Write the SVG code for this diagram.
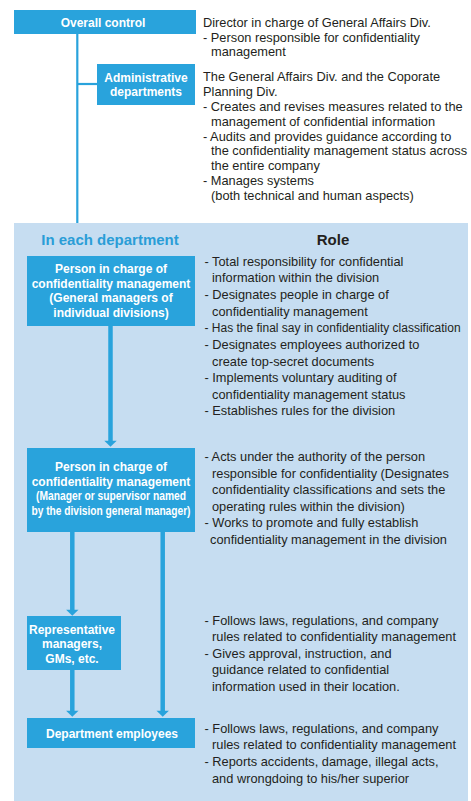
<svg xmlns="http://www.w3.org/2000/svg" width="471" height="801" viewBox="0 0 471 801">
  <style>
    .box { fill: #29a3dc; }
    .bt { font-family: "Liberation Sans", Arial, sans-serif; font-weight: bold; font-size: 12px; fill: #ffffff; text-anchor: middle; }
    .tx { font-family: "Liberation Sans", Arial, sans-serif; font-size: 12.8px; fill: #231f20; }
    .hd { font-family: "Liberation Sans", Arial, sans-serif; font-weight: bold; font-size: 15px; text-anchor: middle; }
    .ln { stroke: #29a3dc; fill: none; }
    .head { fill: #29a3dc; }
  </style>
  <defs>
    <polygon id="arrowhead" points="-6.2,0 6.2,0 0,6" class="head"/>
  </defs>

  <rect x="0" y="0" width="471" height="801" fill="#ffffff"/>

  <!-- department panel -->
  <rect id="panel" x="14" y="223" width="454" height="578" fill="#c6ddf1"/>
  <text class="hd" x="110" y="245" fill="#2a9dd7">In each department</text>
  <text class="hd" x="333" y="244.5" fill="#231f20">Role</text>

  <!-- connectors -->
  <g id="connectors">
    <line class="ln" x1="77.3" y1="34" x2="77.3" y2="223" stroke-width="2.2"/>
    <line class="ln" x1="77.3" y1="84" x2="97" y2="84" stroke-width="2.2"/>
    <line class="ln" x1="110.5" y1="326" x2="110.5" y2="441.5" stroke-width="4.5"/>
    <use href="#arrowhead" x="110.5" y="440.7"/>
    <line class="ln" x1="72.3" y1="532" x2="72.3" y2="610.5" stroke-width="4.5"/>
    <use href="#arrowhead" x="72.3" y="609.7"/>
    <line class="ln" x1="162.7" y1="532" x2="162.7" y2="711.5" stroke-width="4.5"/>
    <use href="#arrowhead" x="162.7" y="710.7"/>
    <line class="ln" x1="72.3" y1="670" x2="72.3" y2="711.5" stroke-width="4.5"/>
    <use href="#arrowhead" x="72.3" y="710.7"/>
  </g>

  <!-- nodes -->
  <g id="overall-control">
    <rect class="box" x="14" y="10" width="182" height="24"/>
    <text class="bt" x="103" y="26.5">Overall control</text>
  </g>

  <g id="administrative-departments">
    <rect class="box" x="97" y="64" width="98" height="41"/>
    <text class="bt" x="146" y="81.5">Administrative</text>
    <text class="bt" x="146" y="95.5">departments</text>
  </g>

  <g id="division-gm">
    <rect class="box" x="27" y="256" width="168" height="70"/>
    <text class="bt" x="111" y="273">Person in charge of</text>
    <text class="bt" x="111" y="287.5">confidentiality management</text>
    <text class="bt" x="111" y="302">(General managers of</text>
    <text class="bt" x="111" y="316.5">individual divisions)</text>
  </g>

  <g id="division-manager">
    <rect class="box" x="27" y="448" width="168" height="84"/>
    <text class="bt" x="111" y="471">Person in charge of</text>
    <text class="bt" x="111" y="485.5">confidentiality management</text>
    <text class="bt" x="111" y="500" font-size="11.5" textLength="150" lengthAdjust="spacingAndGlyphs">(Manager or supervisor named</text>
    <text class="bt" x="111" y="514.5" font-size="11.5" textLength="159" lengthAdjust="spacingAndGlyphs">by the division general manager)</text>
  </g>

  <g id="representative-managers">
    <rect class="box" x="27" y="616" width="94" height="54"/>
    <text class="bt" x="72" y="633.5">Representative</text>
    <text class="bt" x="72" y="648">managers,</text>
    <text class="bt" x="72" y="662.5">GMs, etc.</text>
  </g>

  <g id="department-employees">
    <rect class="box" x="27" y="718" width="168" height="30"/>
    <text class="bt" x="112" y="737.5">Department employees</text>
  </g>

  <!-- role descriptions -->
  <g id="role-overall" class="tx">
    <text x="203" y="27">Director in charge of General Affairs Div.</text>
    <text x="203" y="41.5">- Person responsible for confidentiality</text>
    <text x="211" y="56">management</text>
  </g>

  <g id="role-administrative" class="tx">
    <text x="203" y="80.5">The General Affairs Div. and the Coporate</text>
    <text x="203" y="95.5">Planning Div.</text>
    <text x="203" y="110.5">- Creates and revises measures related to the</text>
    <text x="211" y="125.5">management of confidential information</text>
    <text x="203" y="140.5">- Audits and provides guidance according to</text>
    <text x="211" y="155">the confidentiality management status across</text>
    <text x="211" y="170">the entire company</text>
    <text x="203" y="185">- Manages systems</text>
    <text x="211" y="200">(both technical and human aspects)</text>
  </g>

  <g id="role-division-gm" class="tx">
    <text x="204.5" y="266">- Total responsibility for confidential</text>
    <text x="212" y="282">information within the division</text>
    <text x="204.5" y="299">- Designates people in charge of</text>
    <text x="212" y="315.5">confidentiality management</text>
    <text x="204.5" y="332" font-size="12">- Has the final say in confidentiality classification</text>
    <text x="204.5" y="349">- Designates employees authorized to</text>
    <text x="212" y="365.5">create top-secret documents</text>
    <text x="204.5" y="382">- Implements voluntary auditing of</text>
    <text x="212" y="399">confidentiality management status</text>
    <text x="204.5" y="415">- Establishes rules for the division</text>
  </g>

  <g id="role-division-manager" class="tx">
    <text x="204.5" y="460.5">- Acts under the authority of the person</text>
    <text x="212" y="477.5">responsible for confidentiality (Designates</text>
    <text x="212" y="494">confidentiality classifications and sets the</text>
    <text x="212" y="510.5">operating rules within the division)</text>
    <text x="204.5" y="527">- Works to promote and fully establish</text>
    <text x="210" y="543.5">confidentiality management in the division</text>
  </g>

  <g id="role-representative" class="tx">
    <text x="204.5" y="624.5">- Follows laws, regulations, and company</text>
    <text x="212" y="641">rules related to confidentiality management</text>
    <text x="204.5" y="657.5">- Gives approval, instruction, and</text>
    <text x="212" y="674">guidance related to confidential</text>
    <text x="212" y="690.5">information used in their location.</text>
  </g>

  <g id="role-employees" class="tx">
    <text x="204.5" y="732.5">- Follows laws, regulations, and company</text>
    <text x="212" y="749">rules related to confidentiality management</text>
    <text x="204.5" y="766">- Reports accidents, damage, illegal acts,</text>
    <text x="212" y="782.5">and wrongdoing to his/her superior</text>
  </g>
</svg>
